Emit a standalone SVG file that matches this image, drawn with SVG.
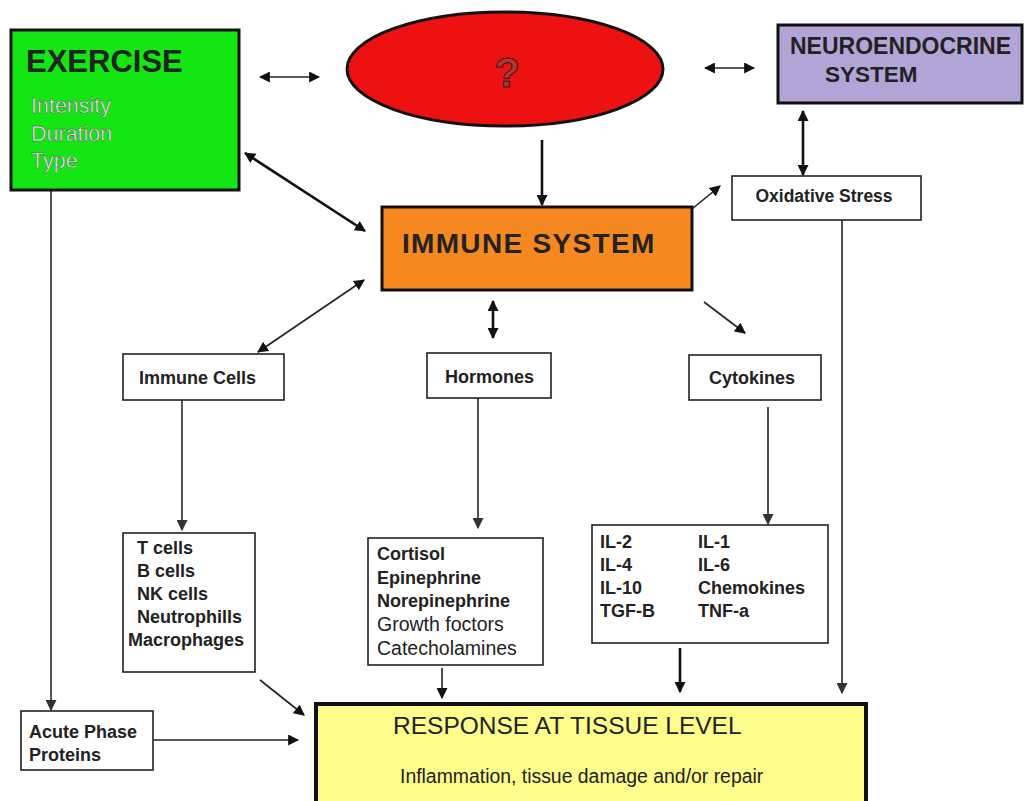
<svg xmlns="http://www.w3.org/2000/svg" width="1025" height="801" viewBox="0 0 1025 801">
<style>
text{font-family:"Liberation Sans",Arial,sans-serif;fill:#222}
.b{font-weight:bold}
.box{fill:#fff;stroke:#222;stroke-width:1.6}
.c{fill:none;stroke:#222;stroke-width:1.6}
.g{fill:none;stroke:#555;stroke-width:2}
.t{fill:none;stroke:#111;stroke-width:2.6}
.lst{font-size:18px;font-weight:bold}
.lt{font-size:21.5px;fill:#e6e6e6;stroke:#444;stroke-width:0.4}
</style>
<defs>
<marker id="a" viewBox="0 0 10 10" refX="9" refY="5" markerWidth="11" markerHeight="11" markerUnits="userSpaceOnUse" orient="auto-start-reverse"><path d="M0,0 L10,5 L0,10 z" fill="#111"/></marker>
<marker id="ag" viewBox="0 0 10 10" refX="9" refY="5" markerWidth="11" markerHeight="11" markerUnits="userSpaceOnUse" orient="auto-start-reverse"><path d="M0,0 L10,5 L0,10 z" fill="#333"/></marker>
</defs>
<rect width="1025" height="801" fill="#fff"/>

<g id="connectors">
<line class="c" x1="260" y1="77" x2="319" y2="77" marker-start="url(#a)" marker-end="url(#a)"/>
<line class="c" x1="705" y1="68" x2="754" y2="68" marker-start="url(#a)" marker-end="url(#a)"/>
<line class="t" x1="542" y1="140" x2="542" y2="205" marker-end="url(#a)"/>
<line class="t" x1="245" y1="153" x2="365" y2="231" marker-start="url(#a)" marker-end="url(#a)"/>
<line class="t" x1="803" y1="111" x2="803" y2="175" marker-start="url(#a)" marker-end="url(#a)"/>
<line class="c" x1="692" y1="209" x2="720" y2="186" marker-end="url(#a)"/>
<line class="c" x1="842" y1="220" x2="842" y2="693" marker-end="url(#ag)"/>
<line class="c" x1="364" y1="280" x2="258" y2="352" marker-start="url(#a)" marker-end="url(#a)"/>
<line class="t" x1="493" y1="301" x2="493" y2="338" marker-start="url(#a)" marker-end="url(#a)"/>
<line class="c" x1="704" y1="302" x2="745" y2="333" marker-end="url(#a)"/>
<line class="g" x1="182" y1="400" x2="182" y2="530" marker-end="url(#ag)"/>
<line class="g" x1="478" y1="398" x2="478" y2="528" marker-end="url(#ag)"/>
<line class="c" x1="768" y1="407" x2="768" y2="524" marker-end="url(#ag)"/>
<line class="g" x1="51" y1="190" x2="51" y2="710" marker-end="url(#ag)"/>
<line class="c" x1="442" y1="668" x2="442" y2="698" marker-end="url(#a)"/>
<line class="t" x1="680" y1="648" x2="680" y2="692" marker-end="url(#a)"/>
<line class="c" x1="260" y1="680" x2="304" y2="715" marker-end="url(#a)"/>
<line class="c" x1="153" y1="740" x2="298" y2="740" marker-end="url(#a)"/>
</g>

<g id="exercise">
<rect x="11" y="30" width="228" height="160" fill="#14e614" stroke="#111" stroke-width="3"/>
<text x="26" y="72" class="b" font-size="31">EXERCISE</text>
<text x="31" y="113" class="lt">Intensity</text>
<text x="31" y="141" class="lt">Duration</text>
<text x="31" y="168" class="lt">Type</text>
</g>

<g id="unknown">
<ellipse cx="505" cy="69" rx="158" ry="57" fill="#ee1111" stroke="#111" stroke-width="3"/>
<text x="507" y="87" font-size="42" class="b" text-anchor="middle" style="fill:#b83030;stroke:#222;stroke-width:1">?</text>
</g>

<g id="neuroendocrine">
<rect x="778" y="25" width="244" height="78" fill="#b3a4d8" stroke="#111" stroke-width="3"/>
<text x="790" y="54" class="b" font-size="23">NEUROENDOCRINE</text>
<text x="825" y="82" class="b" font-size="22.5">SYSTEM</text>
</g>

<g id="oxidative">
<rect class="box" x="732" y="176" width="189" height="44"/>
<text x="824" y="202" class="b" font-size="17.5" text-anchor="middle" fill="#333">Oxidative Stress</text>
</g>

<g id="immune">
<rect x="382" y="207" width="310" height="83" fill="#f5891f" stroke="#111" stroke-width="3"/>
<text x="402" y="253" class="b" font-size="28" letter-spacing="0.8" textLength="253">IMMUNE SYSTEM</text>
</g>

<g id="immune-cells">
<rect class="box" x="123" y="354" width="161" height="46"/>
<text x="139" y="384" class="b" font-size="18">Immune Cells</text>
</g>

<g id="hormones">
<rect class="box" x="427" y="353" width="124" height="45"/>
<text x="445" y="383" class="b" font-size="18">Hormones</text>
</g>

<g id="cytokines">
<rect class="box" x="689" y="355" width="132" height="45"/>
<text x="752" y="384" class="b" font-size="18" text-anchor="middle">Cytokines</text>
</g>

<g id="cell-list">
<rect class="box" x="123" y="533" width="132" height="139"/>
<text x="137" y="554" class="lst">T cells</text>
<text x="137" y="577" class="lst">B cells</text>
<text x="137" y="600" class="lst">NK cells</text>
<text x="137" y="623" class="lst">Neutrophills</text>
<text x="128" y="646" class="lst">Macrophages</text>
</g>

<g id="hormone-list">
<rect class="box" x="368" y="538" width="175" height="127"/>
<text x="377" y="560" class="lst" font-size="17.5">Cortisol</text>
<text x="377" y="584" class="lst" font-size="17.5">Epinephrine</text>
<text x="377" y="607" class="lst" font-size="17.5">Norepinephrine</text>
<text x="377" y="631" font-size="19.5">Growth foctors</text>
<text x="377" y="655" font-size="19.5">Catecholamines</text>
</g>

<g id="cytokine-list">
<rect class="box" x="592" y="525" width="236" height="118"/>
<text x="600" y="548" class="lst">IL-2</text>
<text x="600" y="571" class="lst">IL-4</text>
<text x="600" y="594" class="lst">IL-10</text>
<text x="600" y="617" class="lst">TGF-B</text>
<text x="698" y="548" class="lst">IL-1</text>
<text x="698" y="571" class="lst">IL-6</text>
<text x="698" y="594" class="lst">Chemokines</text>
<text x="698" y="617" class="lst">TNF-a</text>
</g>

<g id="acute-phase">
<rect class="box" x="21" y="711" width="132" height="59"/>
<text x="29" y="738" class="lst">Acute Phase</text>
<text x="29" y="761" class="lst">Proteins</text>
</g>

<g id="response">
<rect x="316" y="704" width="550" height="100" fill="#fdfd8c" stroke="#111" stroke-width="4"/>
<text x="393" y="734" font-size="24.5">RESPONSE AT TISSUE LEVEL</text>
<text x="400" y="783" font-size="19.4">Inflammation, tissue damage and/or repair</text>
</g>
</svg>
